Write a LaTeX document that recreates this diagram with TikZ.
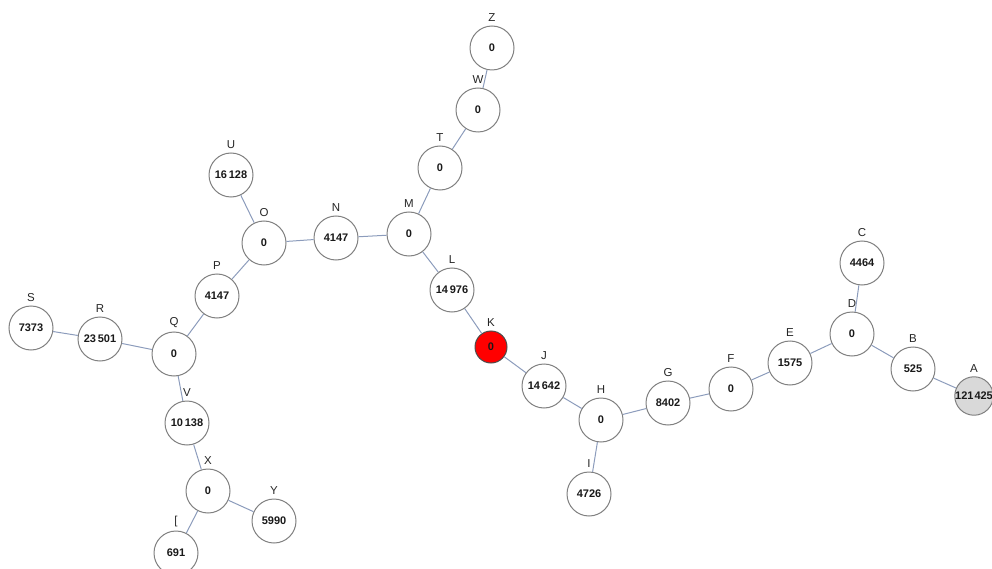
\documentclass[tikz,border=0pt]{standalone}
\usepackage{fontspec}
\setmainfont{Liberation Sans}
\definecolor{edgeblue}{HTML}{8C9CBC}
\definecolor{ringgray}{HTML}{808080}
\begin{document}
\begin{tikzpicture}[
					x = 1pt, y = -1pt,
					vert/.style = {circle, draw=ringgray, line width=1pt, fill=white, minimum size=44pt, inner sep=0pt,
						font=\fontsize{11}{12}\selectfont\bfseries, text=black!90,
						label={[font=\fontsize{11.5}{13}\selectfont, text=black!85]above:#1}},
					link/.style = {draw=edgeblue, line width=1pt}]

					\useasboundingbox (0,0) rectangle (992,569);

					\node[vert=Z] (Z) at (492,48) {0};
					\node[vert=W] (W) at (478,110) {0};
					\node[vert=T] (T) at (440,168) {0};
					\node[vert=M] (M) at (409,234) {0};
					\node[vert=N] (N) at (336,238) {4147};
					\node[vert=O] (O) at (264,243) {0};
					\node[vert=U] (U) at (231,175) {16\,128};
					\node[vert=P] (P) at (217,296) {4147};
					\node[vert=Q] (Q) at (174,354) {0};
					\node[vert=R] (R) at (100,339) {23\,501};
					\node[vert=S] (S) at (31,328) {7373};
					\node[vert=V] (V) at (187,423) {10\,138};
					\node[vert=X] (X) at (208,491) {0};
					\node[vert=Y] (Y) at (274,521) {5990};
					\node[vert={[}] (br) at (176,553) {691};
					\node[vert=L] (L) at (452,290) {14\,976};
					\node[vert=K, minimum size=32pt, fill=red, draw=black!70] (K) at (491,347) {0};
					\node[vert=J] (J) at (544,386) {14\,642};
					\node[vert=H] (H) at (601,420) {0};
					\node[vert=I] (I) at (589,494) {4726};
					\node[vert=G] (G) at (668,403) {8402};
					\node[vert=F] (F) at (731,389) {0};
					\node[vert=E] (E) at (790,363) {1575};
					\node[vert=D] (D) at (852,334) {0};
					\node[vert=C] (C) at (862,263) {4464};
					\node[vert=B] (B) at (913,369) {525};
					\node[vert=A, minimum size=34pt, fill=black!15] (A) at (974,396) {121\kern1pt425};

					\draw[link] (Z) -- (W) -- (T) -- (M) -- (N) -- (O) -- (P) -- (Q) -- (R) -- (S);
					\draw[link] (O) -- (U);
					\draw[link] (Q) -- (V) -- (X) -- (Y);
					\draw[link] (X) -- (br);
					\draw[link] (M) -- (L) -- (K) -- (J) -- (H) -- (G) -- (F) -- (E) -- (D) -- (B) -- (A);
					\draw[link] (H) -- (I);
					\draw[link] (D) -- (C);

				\end{tikzpicture}
\end{document}
